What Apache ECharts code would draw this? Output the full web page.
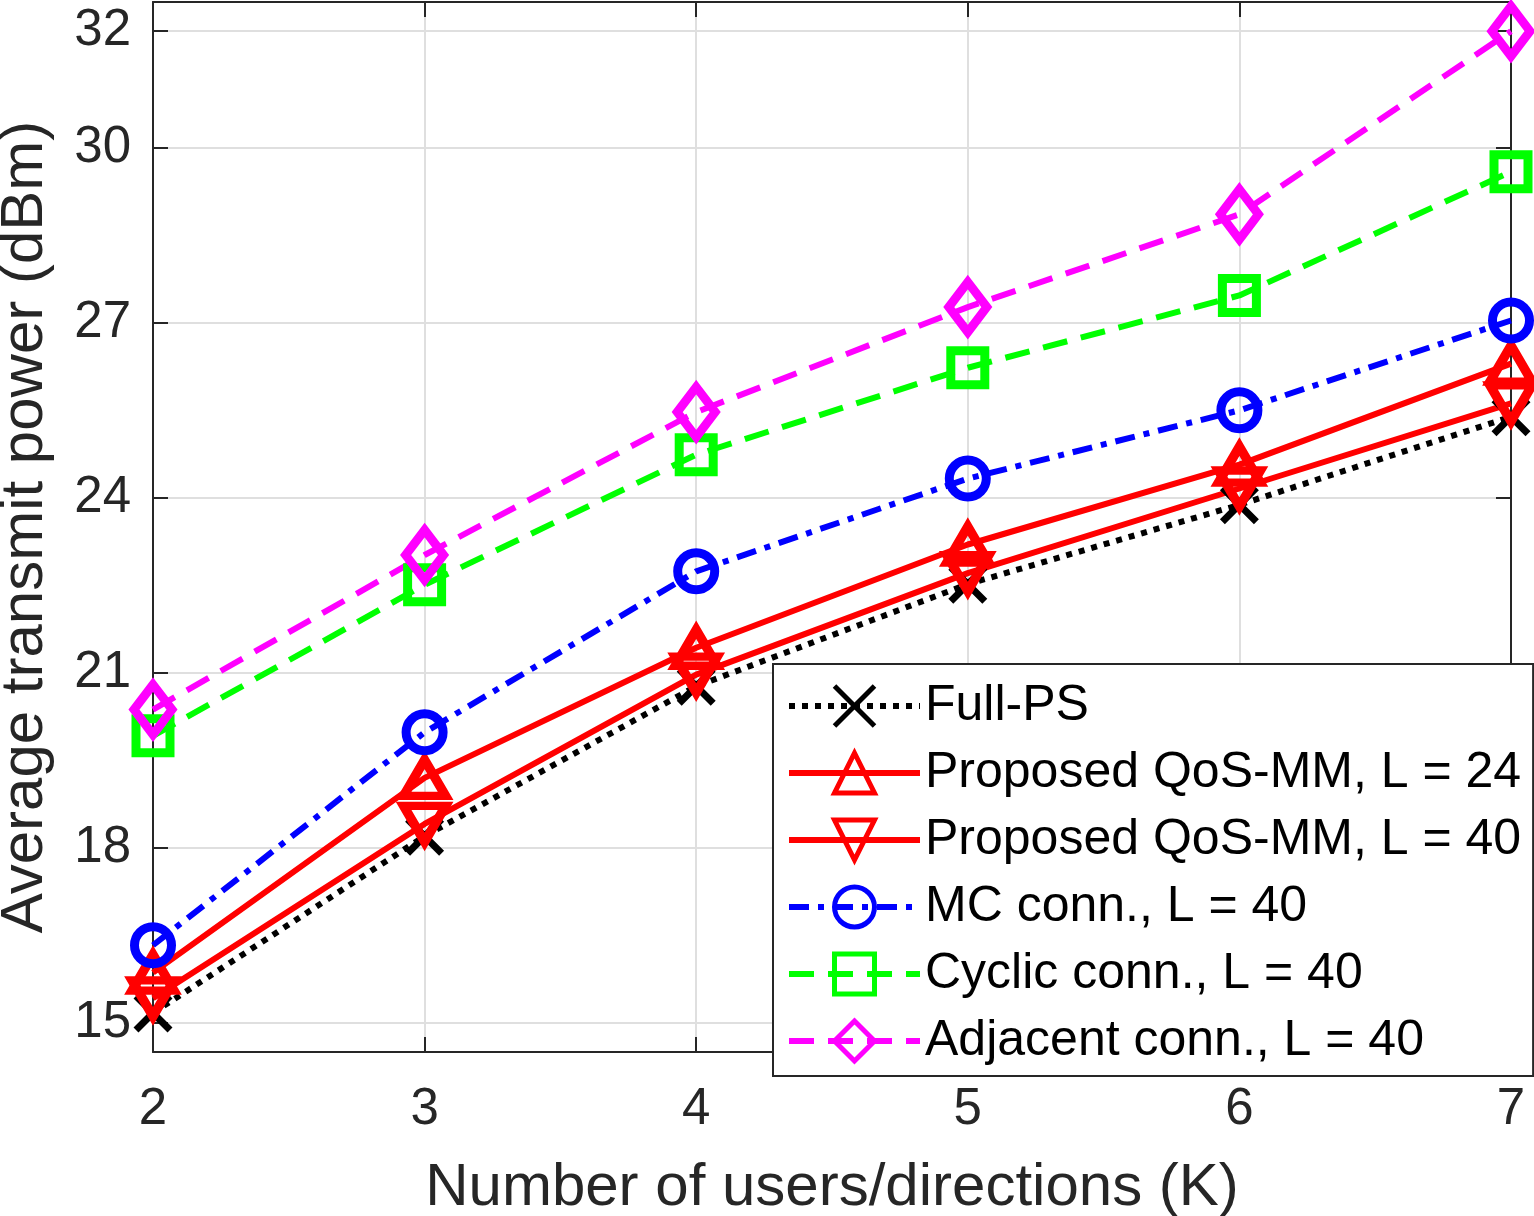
<!DOCTYPE html>
<html>
<head>
<meta charset="utf-8">
<script src="https://cdn.jsdelivr.net/npm/echarts@6/dist/echarts.min.js"></script>
<style>
  html, body { margin: 0; padding: 0; background: #fff; }
  #main { width: 1534px; height: 1216px; }
</style>
</head>
<body>
<div id="main"></div>
<script>
// x values (K) and y tick labels
var users = [2, 3, 4, 5, 6, 7];
var yTicks = [15, 18, 21, 24, 27, 30, 32];

// average transmit power (dBm)
var fullPS = [15.17, 18.2, 20.77, 22.52, 23.88, 25.39];
var qosL24 = [15.86, 19.2, 21.43, 23.2, 24.57, 26.3];
var qosL40 = [15.42, 18.41, 20.97, 22.71, 24.16, 25.62];
var mcConn = [16.33, 19.98, 22.74, 24.33, 25.5, 27.04];
var cyclicConn = [19.92, 22.51, 24.74, 26.23, 27.47, 29.59];
var adjConn = [20.37, 23.02, 25.47, 27.27, 28.86, 32.0];

var names = ['Full-PS', 'Proposed QoS-MM, L = 24', 'Proposed QoS-MM, L = 40',
  'MC conn., L = 40', 'Cyclic conn., L = 40', 'Adjacent conn., L = 40'];

var font = '"Liberation Sans", Arial, Helvetica, sans-serif';
var axisColor = '#262626';

function pairs(arr) {
  return users.map(function(x, i) { return [x, arr[i]]; });
}

// marker strokes in the plot come out about half as wide as borderWidth
function mkSeries(name, arr, color, dash, symbol, size, rotate, bw) {
  return {
    name: name,
    type: 'line',
    data: pairs(arr),
    clip: false,
    symbol: symbol,
    symbolSize: size,
    symbolRotate: rotate || 0,
    showAllSymbol: true,
    lineStyle: { color: color, width: 6, type: dash, cap: 'butt' },
    itemStyle: { color: 'transparent', borderColor: color, borderWidth: bw || 9 },
    emphasis: { disabled: true },
    animation: false
  };
}

var myChart = echarts.init(document.getElementById('main'));
var option = {
  backgroundColor: '#fff',
  animation: false,
  grid: { left: 153, right: 23, top: 2, bottom: 164, containLabel: false, outerBoundsMode: 'none' },
  legend: {
    orient: 'vertical',
    left: 773,
    top: 664,
    itemWidth: 131,
    itemHeight: 50,
    itemGap: 17,
    padding: [17, 12, 10, 13],
    borderColor: axisColor,
    borderWidth: 2,
    backgroundColor: '#fff',
    lineStyle: { width: 6 },
    itemStyle: { borderWidth: 5 },
    textStyle: { fontSize: 50, color: '#000', fontFamily: font },
    data: names
  },
  xAxis: [{
    type: 'value',
    min: 2, max: 7, interval: 1,
    position: 'bottom',
    name: 'Number of users/directions (K)',
    nameLocation: 'middle',
    nameGap: 106,
    nameTextStyle: { fontSize: 60, color: axisColor, fontFamily: font },
    axisLine: { show: true, onZero: false, lineStyle: { color: axisColor, width: 2 } },
    axisTick: { show: true, inside: true, length: 15, lineStyle: { color: axisColor, width: 2 } },
    axisLabel: { fontSize: 51, color: axisColor, fontFamily: font, margin: 32 },
    splitLine: { show: true, lineStyle: { color: '#dfdfdf', width: 2 } }
  }, {
    type: 'value',
    min: 2, max: 7, interval: 1,
    position: 'top',
    axisLine: { show: true, onZero: false, lineStyle: { color: axisColor, width: 2 } },
    axisTick: { show: true, inside: true, length: 15, lineStyle: { color: axisColor, width: 2 } },
    axisLabel: { show: false },
    splitLine: { show: false }
  }],
  yAxis: [{
    type: 'value',
    min: 14.5, max: 32.5,
    position: 'left',
    name: 'Average transmit power (dBm)',
    nameLocation: 'middle',
    nameGap: 98,
    nameTextStyle: { fontSize: 60, color: axisColor, fontFamily: font },
    axisLine: { show: true, onZero: false, lineStyle: { color: axisColor, width: 2 } },
    axisTick: { show: true, inside: true, length: 15, customValues: yTicks, lineStyle: { color: axisColor, width: 2 } },
    axisLabel: { fontSize: 51, color: axisColor, fontFamily: font, margin: 22, customValues: yTicks },
    splitLine: { show: true, lineStyle: { color: '#dfdfdf', width: 2 } }
  }, {
    type: 'value',
    min: 14.5, max: 32.5,
    position: 'right',
    axisLine: { show: true, onZero: false, lineStyle: { color: axisColor, width: 2 } },
    axisTick: { show: true, inside: true, length: 15, customValues: yTicks, lineStyle: { color: axisColor, width: 2 } },
    axisLabel: { show: false },
    splitLine: { show: false }
  }],
  series: [
    mkSeries(names[0], fullPS, '#000000', [6, 7], 'path://M0 0L10 10M10 0L0 10', 34, 0, 7),
    mkSeries(names[1], qosL24, '#ff0000', 'solid', 'triangle', [42, 36]),
    mkSeries(names[2], qosL40, '#ff0000', 'solid', 'triangle', [42, 36], 180),
    mkSeries(names[3], mcConn, '#0000ff', [20, 9, 6, 9], 'circle', 37),
    mkSeries(names[4], cyclicConn, '#00ff00', [25, 14], 'rect', 34),
    mkSeries(names[5], adjConn, '#ff00ff', [25, 14], 'diamond', [38, 50])
  ]
};
myChart.setOption(option);
</script>
</body>
</html>
